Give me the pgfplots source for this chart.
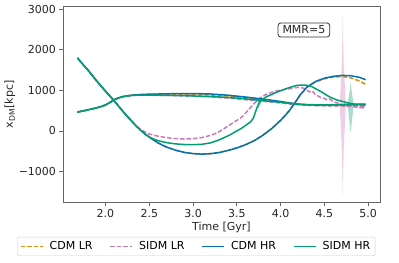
\documentclass[border=0pt]{standalone}
\usepackage{fontspec}
\setmainfont{DejaVu Sans}
\usepackage{pgfplots}
\pgfplotsset{compat=1.18}
\definecolor{cbblue}{HTML}{0173B2}
\definecolor{cborange}{HTML}{DE8F05}
\definecolor{cbgreen}{HTML}{029E73}
\definecolor{cbpink}{HTML}{CC78BC}
\newcommand{\fs}{\fontsize{11bp}{13bp}\selectfont}
\begin{document}
\begin{tikzpicture}
\useasboundingbox (-63bp,-60.3bp) rectangle (336bp,202.7bp);
\begin{axis}[
  scale only axis, width=317bp, height=196.7bp,
  xmin=1.515, xmax=5.135, ymin=-1770, ymax=3080,
  xtick={2.0,2.5,3.0,3.5,4.0,4.5,5.0},
  xticklabels={2.0,2.5,3.0,3.5,4.0,4.5,5.0},
  ytick={-1000,0,1000,2000,3000},
  yticklabels={−1000,0,1000,2000,3000},
  tick align=outside, major tick length=3.5bp,
  xtick pos=bottom, ytick pos=left,
  axis line style={gray!80!black, line width=0.8bp},
  tick style={gray!80!black, line width=0.8bp},
  tick label style={font=\fs, text=black!85},
  label style={font=\fs, text=black!85},
  xlabel={Time [Gyr]},
  ylabel={x\textsubscript{DM}[kpc]},
  xlabel style={at={(axis description cs:0.5,-0.099)}, anchor=north, inner sep=0pt},
  ylabel style={at={(axis description cs:-0.185,0.5)}, anchor=north, inner sep=0pt},
  legend columns=4,
  legend style={at={(-0.145,-0.174)}, anchor=north west, font=\fs,
    draw=black!20, rounded corners=2bp, inner xsep=3bp, inner ysep=2.5bp,
    /tikz/every even column/.append style={column sep=15bp},
    /tikz/every odd column/.append style={column sep=4bp}},
  legend image code/.code={\draw[#1, line width=1.5bp] (0bp,0bp) -- (22bp,0bp);},
]
% uncertainty spikes
\addplot[draw=none, fill=cbpink, fill opacity=0.35, forget plot] coordinates {
(4.675,630) (4.70,1700) (4.71,2850) (4.72,1700) (4.745,630) (4.72,-500) (4.71,-1580) (4.70,-500) (4.675,630)};
\addplot[draw=none, fill=cbgreen, fill opacity=0.35, forget plot] coordinates {
(4.765,650) (4.79,1000) (4.80,1215) (4.81,1000) (4.835,650) (4.81,150) (4.80,-50) (4.79,150) (4.765,650)};
\addplot[draw=none, fill=cbgreen, fill opacity=0.35, forget plot] coordinates {
(3.72,560) (3.75,760) (3.78,700) (3.75,560) (3.72,560)};
% CDM LR (orange dashed)
\addplot[cborange, line width=1.5bp, dash pattern=on 4.5bp off 2bp] coordinates {
(1.68,1800) (1.75,1620) (1.8,1500) (1.85,1365) (1.9,1230) (1.95,1105) (2.0,980) (2.05,860) (2.1,740) (2.15,610) (2.2,480) (2.25,355) (2.3,240) (2.35,125) (2.4,20) (2.45,-70) (2.5,-150) (2.55,-225) (2.6,-295) (2.65,-350) (2.7,-400) (2.8,-475) (2.9,-530) (3.0,-560) (3.1,-570) (3.2,-560) (3.3,-530) (3.4,-480) (3.5,-418) (3.6,-338) (3.7,-238) (3.8,-100) (3.9,65) (4.0,265) (4.05,380) (4.1,505) (4.16,685) (4.22,870) (4.3,1075) (4.4,1210) (4.5,1285) (4.6,1325) (4.7,1342) (4.8,1310) (4.9,1230) (4.97,1150)};
\addlegendentry{CDM LR}
\addplot[cborange, line width=1.5bp, dash pattern=on 4.5bp off 2bp, forget plot] coordinates {
(1.68,465) (1.75,495) (1.8,520) (1.85,545) (1.9,570) (1.95,600) (2.0,640) (2.05,700) (2.1,770) (2.15,815) (2.2,848) (2.3,880) (2.4,895) (2.5,900) (2.7,905) (2.9,905) (3.0,900) (3.2,885) (3.4,860) (3.6,820) (3.8,770) (4.0,712) (4.1,680) (4.2,652) (4.3,638) (4.4,632) (4.5,628) (4.6,625) (4.7,622) (4.8,620) (4.9,620) (4.97,620)};
% SIDM LR (pink dashed)
\addplot[cbpink, line width=1.5bp, dash pattern=on 4.5bp off 2bp] coordinates {
(1.68,1800) (1.75,1620) (1.8,1500) (1.85,1365) (1.9,1230) (1.95,1105) (2.0,980) (2.05,860) (2.1,740) (2.15,610) (2.2,480) (2.25,355) (2.3,240) (2.35,130) (2.4,40) (2.45,-25) (2.5,-75) (2.55,-105) (2.6,-130) (2.7,-165) (2.8,-190) (2.9,-200) (3.0,-192) (3.1,-165) (3.2,-110) (3.25,-70) (3.3,-15) (3.35,50) (3.4,120) (3.45,190) (3.5,260) (3.55,330) (3.6,440) (3.65,560) (3.7,680) (3.76,805) (3.8,860) (3.85,915) (3.9,950) (3.95,985) (4.0,1005) (4.05,1025) (4.1,1040) (4.15,1060) (4.2,1075) (4.25,1060) (4.3,1010) (4.33,960) (4.36,990) (4.4,890) (4.43,860) (4.46,820) (4.5,800) (4.53,770) (4.56,790) (4.6,720) (4.65,690) (4.68,650) (4.72,640) (4.76,600) (4.8,620) (4.85,590) (4.9,580) (4.97,560)};
\addlegendentry{SIDM LR}
\addplot[cbpink, line width=1.5bp, dash pattern=on 4.5bp off 2bp, forget plot] coordinates {
(1.68,465) (1.75,495) (1.8,520) (1.85,545) (1.9,570) (1.95,600) (2.0,640) (2.05,700) (2.1,770) (2.15,812) (2.2,843) (2.3,872) (2.4,880) (2.5,880) (2.7,875) (2.9,865) (3.0,858) (3.2,840) (3.4,810) (3.5,790) (3.6,770) (3.8,730) (4.0,690) (4.1,665) (4.2,645) (4.3,630) (4.4,625) (4.5,620) (4.6,615) (4.7,615) (4.8,610) (4.9,605) (4.97,600)};
% CDM HR (blue)
\addplot[cbblue, line width=1.5bp] coordinates {
(1.68,1800) (1.75,1620) (1.8,1500) (1.85,1365) (1.9,1230) (1.95,1105) (2.0,980) (2.05,860) (2.1,740) (2.15,610) (2.2,480) (2.25,355) (2.3,240) (2.35,125) (2.4,20) (2.45,-70) (2.5,-150) (2.55,-225) (2.6,-295) (2.65,-350) (2.7,-400) (2.8,-475) (2.9,-530) (3.0,-560) (3.1,-572) (3.2,-562) (3.3,-532) (3.4,-482) (3.5,-420) (3.6,-340) (3.7,-240) (3.8,-105) (3.9,60) (4.0,260) (4.05,375) (4.1,500) (4.16,680) (4.22,880) (4.3,1080) (4.4,1220) (4.5,1300) (4.6,1345) (4.7,1368) (4.8,1362) (4.9,1320) (4.97,1265)};
\addlegendentry{CDM HR}
\addplot[cbblue, line width=1.5bp, forget plot] coordinates {
(1.68,465) (1.75,495) (1.8,520) (1.85,545) (1.9,570) (1.95,600) (2.0,640) (2.05,700) (2.1,770) (2.15,815) (2.2,848) (2.3,880) (2.4,897) (2.5,905) (2.7,915) (2.9,922) (3.0,922) (3.2,910) (3.4,880) (3.6,835) (3.8,785) (4.0,725) (4.1,690) (4.2,660) (4.3,645) (4.4,638) (4.5,640) (4.6,645) (4.7,650) (4.8,655) (4.9,658) (4.97,660)};
% SIDM HR (green)
\addplot[cbgreen, line width=1.5bp] coordinates {
(1.68,1800) (1.75,1620) (1.8,1500) (1.85,1365) (1.9,1230) (1.95,1105) (2.0,980) (2.05,860) (2.1,740) (2.15,610) (2.2,480) (2.25,355) (2.3,240) (2.35,125) (2.4,20) (2.45,-80) (2.5,-150) (2.55,-200) (2.6,-240) (2.65,-265) (2.7,-290) (2.8,-320) (2.9,-335) (3.0,-340) (3.1,-330) (3.2,-295) (3.3,-220) (3.35,-170) (3.42,-100) (3.5,0) (3.55,60) (3.61,150) (3.66,230) (3.69,320) (3.71,450) (3.73,570) (3.76,710) (3.8,790) (3.84,845) (3.9,900) (3.95,950) (4.0,990) (4.05,1030) (4.1,1070) (4.18,1120) (4.25,1132) (4.3,1125) (4.35,1100) (4.4,1040) (4.45,980) (4.49,930) (4.55,850) (4.6,800) (4.64,765) (4.7,730) (4.79,680) (4.85,660) (4.9,650) (4.97,640)};
\addlegendentry{SIDM HR}
\addplot[cbgreen, line width=1.5bp, forget plot] coordinates {
(1.68,465) (1.75,495) (1.8,520) (1.85,545) (1.9,570) (1.95,600) (2.0,640) (2.05,700) (2.1,770) (2.15,815) (2.2,846) (2.3,876) (2.4,885) (2.5,882) (2.7,878) (2.9,868) (3.0,862) (3.2,848) (3.4,825) (3.6,790) (3.8,745) (4.0,705) (4.1,680) (4.2,660) (4.3,650) (4.4,645) (4.5,640) (4.6,640) (4.7,640) (4.8,645) (4.9,648) (4.97,650)};
\node[draw=black!80, line width=0.8bp, rounded corners=3bp, fill=white, font=\fs, text=black!85, inner xsep=4.5bp, inner ysep=3bp] at (rel axis cs:0.76,0.878) {MMR=5};
\end{axis}
\end{tikzpicture}
\end{document}
